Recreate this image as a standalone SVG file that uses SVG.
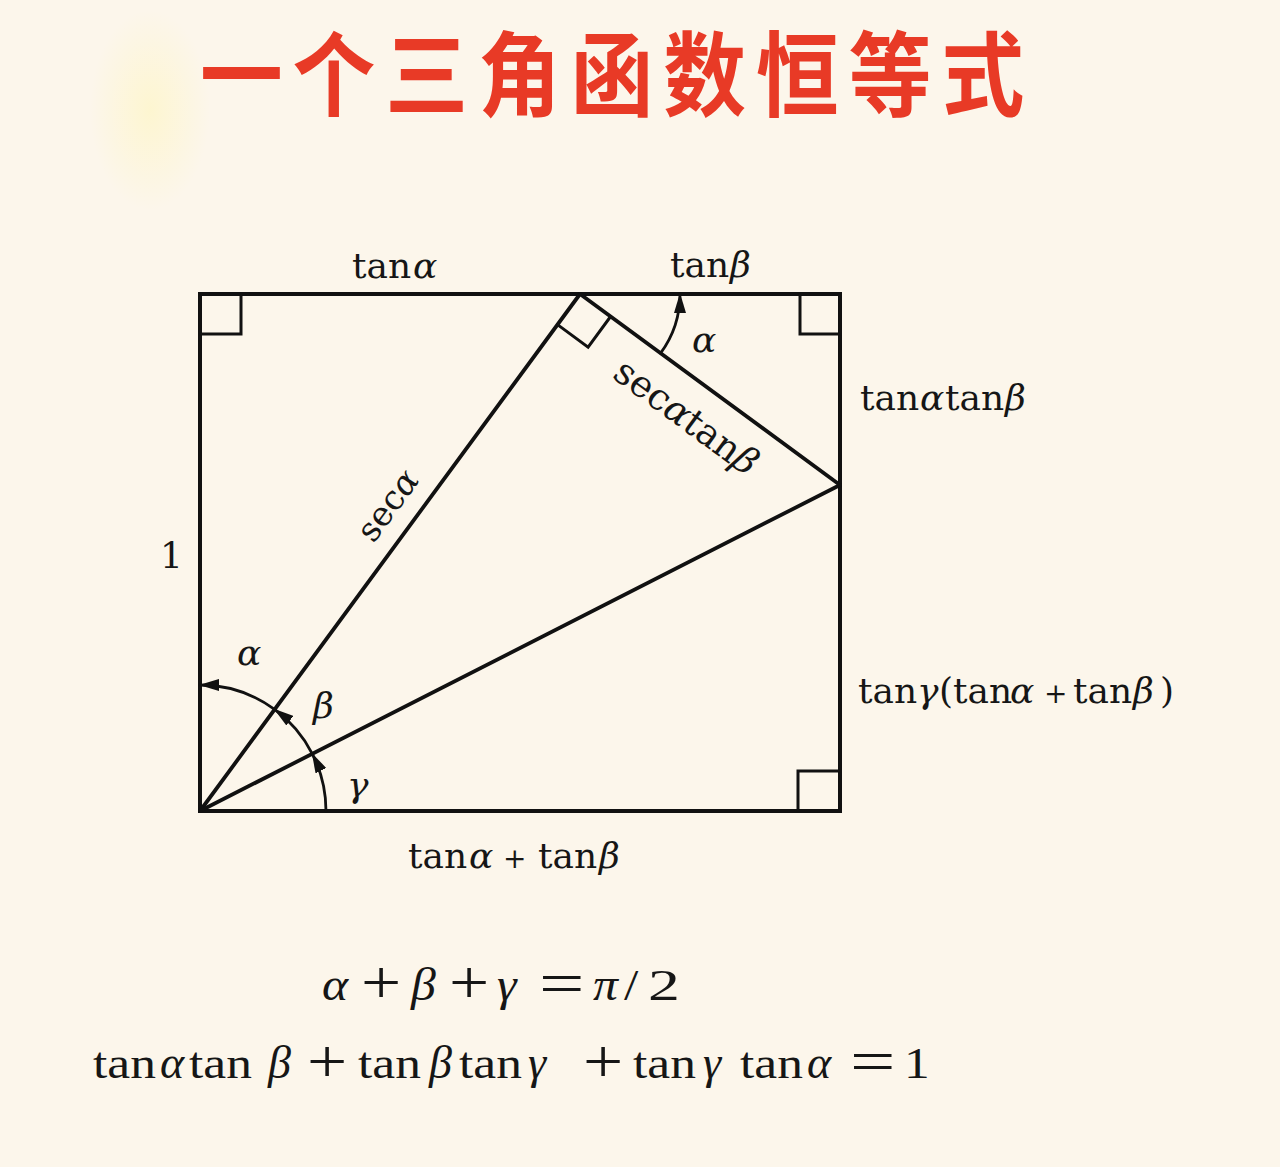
<svg xmlns="http://www.w3.org/2000/svg" width="1280" height="1167" viewBox="0 0 1280 1167">
  <defs>
    <radialGradient id="glow" cx="0.5" cy="0.5" r="0.5">
      <stop offset="0" stop-color="#fff5b0" stop-opacity="0.45"/>
      <stop offset="1" stop-color="#fff5b0" stop-opacity="0"/>
    </radialGradient>
    <marker id="ah" viewBox="0 0 20 12" refX="19" refY="6" markerWidth="20" markerHeight="12" markerUnits="userSpaceOnUse" orient="auto">
      <path d="M0,0 L20,6 L0,12 z" fill="#111"/>
    </marker>
    <style>
      .ln { fill: none; stroke: #111; stroke-linecap: round; stroke-linejoin: miter; }
      .lbl { font-family: "DejaVu Serif", "Liberation Serif", serif; font-size: 36px; fill: #161616; }
      .gr { font-style: italic; }
      .sm { font-size: 28px; }
      .eq { font-family: "Liberation Serif", "Times New Roman", serif; font-size: 44px; fill: #161616; }
      .eg { font-style: italic; font-size: 46px; }
      .op { font-size: 62px; }
    </style>
  </defs>

  <rect x="0" y="0" width="1280" height="1167" fill="#fcf6eb"/>
  <ellipse cx="150" cy="110" rx="60" ry="100" fill="url(#glow)"/>

  <text id="title" transform="translate(617,109) scale(0.9,1)" x="0" y="0" text-anchor="middle" font-family="Noto Sans CJK SC, sans-serif" font-weight="700" font-size="92" letter-spacing="11" fill="#e83a26">一个三角函数恒等式</text>

  <g id="figure">
    <rect id="frame" class="ln" x="200" y="294" width="640" height="517" stroke-width="4"/>
    <g id="right-angles" class="ln" stroke-width="3">
      <path d="M201,334 H241 V295"/>
      <path d="M800,295 V334 H839"/>
      <path d="M798,810 V771 H839"/>
      <path d="M557.5,324.6 L588.1,347.1 L610.6,316.5"/>
    </g>
  </g>

  <g id="connectors" class="ln" stroke-width="3.8">
    <line x1="200" y1="811" x2="580" y2="294"/>
    <line x1="200" y1="811" x2="840" y2="485"/>
    <line x1="580" y1="294" x2="840" y2="485"/>
    <g id="angle-arcs" stroke-width="2.8">
      <path d="M326,811 A126,126 0 0 0 312.3,753.8" marker-end="url(#ah)"/>
      <path d="M312.3,753.8 A126,126 0 0 0 274.6,709.4" marker-end="url(#ah)"/>
      <path d="M274.6,709.4 A126,126 0 0 0 200,685" marker-end="url(#ah)"/>
      <path d="M660.6,353.2 A100,100 0 0 0 680,294" marker-end="url(#ah)"/>
    </g>
  </g>

  <g id="labels" class="lbl">
    <text x="352" y="278">tan<tspan class="gr" x="413">α</tspan></text>
    <text x="670" y="277">tan<tspan class="gr" x="730">β</tspan></text>
    <text class="gr" x="692" y="352">α</text>
    <text x="860" y="410">tan<tspan class="gr" x="920">α</tspan><tspan x="945">tan</tspan><tspan class="gr" x="1005">β</tspan></text>
    <text x="858" y="703">tan<tspan class="gr" x="917">γ</tspan><tspan x="939">(tan</tspan><tspan class="gr" x="1010">α</tspan><tspan class="sm" x="1044">+</tspan><tspan x="1073">tan</tspan><tspan class="gr" x="1133">β</tspan><tspan x="1160">)</tspan></text>
    <text x="408" y="868">tan<tspan class="gr" x="469">α</tspan><tspan class="sm" x="503">+</tspan><tspan x="538">tan</tspan><tspan class="gr" x="599">β</tspan></text>
    <text x="160" y="568">1</text>
    <text class="gr" x="237" y="665">α</text>
    <text class="gr" x="313" y="718">β</text>
    <text class="gr" x="347" y="797">γ</text>
    <text transform="translate(397,512) rotate(-53.7)" text-anchor="middle" font-size="34">sec<tspan class="gr">α</tspan></text>
    <text transform="translate(679,427) rotate(36.3)" text-anchor="middle" font-size="37">sec<tspan class="gr">α</tspan>tan<tspan class="gr">β</tspan></text>
  </g>

  <g id="formulas" class="eq">
    <g id="eq1">
      <text class="eg" transform="translate(322,1000) scale(1.08,1)">α</text>
      <text class="op" transform="translate(361,1003) scale(1.15,1)">+</text>
      <text class="eg" transform="translate(411,1000) scale(1.08,1)">β</text>
      <text class="op" transform="translate(449,1003) scale(1.15,1)">+</text>
      <text class="eg" transform="translate(497,1000) scale(1.08,1)">γ</text>
      <text class="op" transform="translate(539,1004) scale(1.3,1)">=</text>
      <text class="eg" transform="translate(593,1000) scale(1.08,1)">π</text>
      <text transform="translate(624,1000) scale(1.17,1)">/</text>
      <text transform="translate(648,1000) scale(1.45,1)">2</text>
    </g>
    <g id="eq2">
      <text transform="translate(93,1078) scale(1.17,1)">tan</text>
      <text class="eg" transform="translate(160,1078)">α</text>
      <text transform="translate(189,1078) scale(1.17,1)">tan</text>
      <text class="eg" transform="translate(268,1078)">β</text>
      <text class="op" transform="translate(307,1082) scale(1.15,1)">+</text>
      <text transform="translate(358,1078) scale(1.17,1)">tan</text>
      <text class="eg" transform="translate(429,1078)">β</text>
      <text transform="translate(459,1078) scale(1.17,1)">tan</text>
      <text class="eg" transform="translate(528,1078)">γ</text>
      <text class="op" transform="translate(583,1082) scale(1.15,1)">+</text>
      <text transform="translate(633,1078) scale(1.17,1)">tan</text>
      <text class="eg" transform="translate(703,1078)">γ</text>
      <text transform="translate(740,1078) scale(1.17,1)">tan</text>
      <text class="eg" transform="translate(807,1078)">α</text>
      <text class="op" transform="translate(850,1082) scale(1.3,1)">=</text>
      <text transform="translate(904,1078) scale(1.17,1)">1</text>
    </g>
  </g>
</svg>
